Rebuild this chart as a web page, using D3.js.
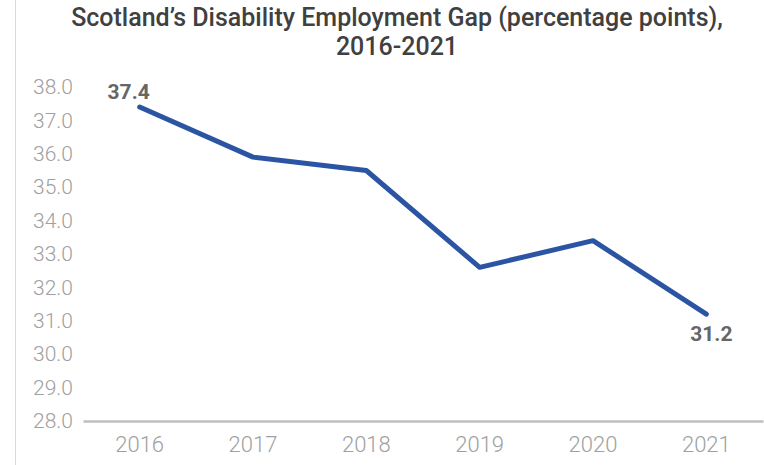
<!DOCTYPE html>
<html>
<head>
<meta charset="utf-8">
<script src="https://cdn.jsdelivr.net/npm/d3@7"></script>
<style>
  body { margin: 0; background: #fff; }
  text { font-family: Roboto, "Open Sans", sans-serif; }
</style>
</head>
<body>
<script>
// chart values
var years = ["2016", "2017", "2018", "2019", "2020", "2021"];
var gap = [37.4, 35.9, 35.5, 32.6, 33.4, 31.2];
var yTicks = [28, 29, 30, 31, 32, 33, 34, 35, 36, 37, 38];
var titleLines = ["Scotland\u2019s Disability Employment Gap (percentage points),", "2016-2021"];

var width = 764, height = 465;
var margin = {top: 87, right: 1, bottom: 44, left: 83};
var w = width - margin.left - margin.right;
var h = height - margin.top - margin.bottom;

var svg = d3.select("body").append("svg")
  .attr("width", width)
  .attr("height", height);

// chart area border on the left
svg.append("line")
  .attr("x1", 15.5).attr("x2", 15.5)
  .attr("y1", 0).attr("y2", height)
  .style("stroke", "#d9d9d9")
  .style("stroke-width", 1);

svg.selectAll(".title")
  .data(titleLines)
.enter().append("text")
  .attr("class", "title")
  .attr("x", 397)
  .attr("y", function(d, i) { return 26 + i * 29; })
  .attr("text-anchor", "middle")
  .style("font-size", "25px")
  .style("font-weight", "500")
  .style("fill", "#404040")
  .text(function(d) { return d; });

var g = svg.append("g")
  .attr("transform", "translate(" + margin.left + "," + margin.top + ")");

var x = d3.scaleBand().domain(years).range([0, w]);
var y = d3.scaleLinear().domain([28, 38]).range([h, 0]);

var yAxis = g.append("g")
  .call(d3.axisLeft(y).tickValues(yTicks).tickFormat(d3.format(".1f")).tickSize(0).tickPadding(10));
yAxis.select(".domain").remove();
yAxis.selectAll("text")
  .style("font-size", "21px")
  .style("font-weight", "300")
  .style("fill", "#a0a0a0");

var xAxis = g.append("g")
  .attr("transform", "translate(0," + h + ")")
  .call(d3.axisBottom(x).tickSize(0).tickPadding(15));
xAxis.select(".domain")
  .style("stroke", "#bfbfbf")
  .style("stroke-width", 2.5);
xAxis.selectAll("text")
  .style("font-size", "22px")
  .style("font-weight", "300")
  .style("fill", "#a0a0a0");

var pts = years.map(function(d, i) { return {year: d, value: gap[i]}; });

var line = d3.line()
  .x(function(d) { return x(d.year) + x.bandwidth() / 2; })
  .y(function(d) { return y(d.value); });

g.append("path")
  .datum(pts)
  .attr("d", line)
  .style("fill", "none")
  .style("stroke", "#2b55a3")
  .style("stroke-width", 5)
  .style("stroke-linejoin", "round")
  .style("stroke-linecap", "round");

// data labels on first and last points
var labelled = [pts[0], pts[pts.length - 1]];
g.selectAll(".dlabel")
  .data(labelled)
.enter().append("text")
  .attr("class", "dlabel")
  .attr("x", function(d, i) { return x(d.year) + x.bandwidth() / 2 + (i === 0 ? -11 : 5); })
  .attr("y", function(d, i) { return y(d.value) + (i === 0 ? -8 : 27); })
  .attr("text-anchor", "middle")
  .style("font-size", "21px")
  .style("font-weight", "700")
  .style("fill", "#666666")
  .text(function(d) { return d3.format(".1f")(d.value); });
</script>
</body>
</html>
